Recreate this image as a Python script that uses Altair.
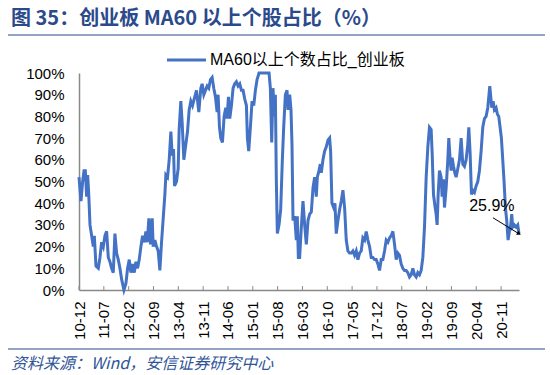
import altair as alt
import pandas as pd

# months since 2010-12 and share of ChiNext stocks above MA60 (%)
months = [
    0.0, 0.56, 1.03, 1.41, 1.78, 2.16, 2.44, 2.72, 3.10, 3.57,
    4.03, 4.32, 4.79, 5.44, 5.91, 6.38, 6.85, 7.32, 7.79, 8.26,
    8.73, 9.20, 9.66, 10.13, 10.60, 11.07, 11.54, 12.01, 12.67, 13.23,
    13.70, 14.17, 14.64, 15.11, 15.58, 16.05, 16.51, 16.98, 17.45, 17.92,
    18.39, 18.86, 19.24, 19.70, 20.17, 20.64, 20.92, 21.39, 21.86, 22.33,
    22.80, 23.27, 23.74, 24.21, 24.49, 24.96, 25.43, 25.90, 26.27, 26.65,
    26.93, 27.49, 27.96, 28.24, 28.71, 29.09, 29.56, 30.03, 30.59, 31.06,
    31.53, 32.00, 32.47, 33.12, 33.78, 34.34, 34.72, 35.19, 35.65, 36.12,
    36.59, 37.06, 37.53, 38.00, 38.47, 38.94, 39.22, 39.60, 39.97, 40.44,
    40.91, 41.38, 41.75, 42.13, 42.51, 42.97, 43.44, 43.91, 44.38, 44.85,
    45.32, 45.79, 46.26, 46.73, 47.20, 47.48, 47.85, 48.32, 48.79, 49.26,
    49.73, 50.20, 50.76, 51.42, 52.08, 52.83, 53.58,
    53.95, 54.33, 54.70, 55.08, 55.36, 55.64, 55.92, 56.39, 56.86, 57.33,
    57.71, 58.18, 58.65, 58.93, 59.40, 59.77, 60.05, 60.34, 60.81, 61.27,
    61.55, 61.84, 62.21, 62.68, 63.15, 63.62, 64.09, 64.56, 65.03, 65.50,
    65.97, 66.44, 66.90, 67.19, 67.66, 68.03, 68.31, 68.78, 69.25, 69.72,
    70.19, 70.66, 70.94, 71.31, 71.78, 72.16, 72.53, 73.00, 73.47, 73.94,
    74.41, 74.88, 75.35, 75.81, 76.28, 76.75, 77.22, 77.69, 78.16, 78.63,
    79.10, 79.57, 80.04, 80.51, 80.98, 81.45, 81.92, 82.39, 82.85, 83.32,
    83.79, 84.26, 84.73, 85.20, 85.67, 86.14, 86.61, 87.08, 87.55, 88.02,
    88.49, 88.96, 89.43, 89.90, 90.36, 90.83, 91.30, 91.77, 92.24, 92.71,
    93.18, 93.65, 94.12, 94.59, 95.06, 95.53, 96.00, 96.47, 96.94, 97.41,
    97.88, 98.35, 98.81, 99.28, 99.57, 99.94, 100.41, 100.69, 100.97, 101.26,
    101.63, 102.10, 102.38, 102.76, 103.04, 103.51, 103.98, 104.26, 104.64, 104.92,
    105.20, 105.58, 105.95, 106.33, 106.80, 107.27, 107.74, 108.21, 108.67, 109.14,
    109.61, 109.90, 110.27, 110.65, 111.02, 111.49, 111.96, 112.43, 112.90, 113.37,
    113.84, 114.31, 114.78, 115.25, 115.53, 115.81, 116.09, 116.37, 116.75, 117.12,
    117.59, 117.97, 118.34, 118.72, 119.09, 119.47, 119.84, 120.22, 120.59, 120.97,
    121.34, 121.72, 122.00, 122.28, 122.75, 123.22, 123.69, 124.05,
]
values = [
    52, 41, 50, 55, 55, 43, 53, 45, 30, 25,
    20, 25, 11, 10, 15, 22, 20, 25, 27, 15,
    13, 10, 8, 26, 17, 14, 10, 5, 0, 3,
    10, 14, 8, 12, 8, 13, 10, 14, 20, 25,
    22, 27, 22, 33, 21, 33, 20, 23, 20, 18,
    9, 22, 33, 44, 53, 52, 60, 73, 62, 65,
    48, 50, 56, 74, 87, 77, 60, 66, 73, 83,
    87, 85, 88, 92, 82, 93, 95, 90, 92, 94,
    93, 97, 98, 93, 89, 82, 90, 75, 70, 68,
    80, 84, 79, 89, 79, 85, 93, 95, 96, 94,
    95, 92, 92, 88, 85, 70, 64, 75, 87, 85,
    92, 97, 100, 100, 100, 100, 100,
    93, 68, 93, 80, 90, 50, 26, 30, 37, 60,
    75, 90, 92, 83, 90, 83, 67, 32, 34, 23,
    34, 15, 15, 29, 41, 30, 21, 32, 35, 36,
    47, 52, 43, 52, 55, 58, 54, 60, 64, 66,
    69, 70, 64, 40, 38, 40, 26, 32, 37, 41,
    46, 38, 23, 18, 17, 17, 18, 16, 18, 14,
    17, 18, 24, 23, 27, 23, 20, 15, 15, 14,
    14, 12, 9, 14, 14, 18, 23, 22, 24, 25,
    27, 21, 14, 17, 16, 12, 10, 9, 9, 8,
    6, 7, 10, 7, 6, 8, 7, 9, 15, 29,
    52, 66, 75, 74, 63, 44, 38, 35, 30, 44,
    55, 52, 43, 51, 38, 47, 60, 70, 60, 55,
    61, 57, 54, 52, 56, 60, 70, 58, 57, 60,
    67, 75, 63, 44, 46, 45, 48, 50, 55, 64,
    75, 79, 80, 84, 89, 94, 89, 84, 87, 83,
    84, 81, 80, 75, 70, 60, 50, 38, 32, 23,
    27, 30, 35, 29, 30, 29, 30, 25.9,
]

tick_labels = ["10-12", "11-07", "12-02", "12-09", "13-04", "13-11", "14-06",
               "15-01", "15-08", "16-03", "16-10", "17-05", "17-12", "18-07",
               "19-02", "19-09", "20-04", "20-11"]
tick_months = [0, 7, 14, 21, 28, 35, 42, 49, 56, 63, 70, 77, 84, 91, 98, 105, 112, 119]
y_ticks = [0, 10, 20, 30, 40, 50, 60, 70, 80, 90, 100]
tick_base = [0] * len(tick_months)
tick_top = [1.8] * len(tick_months)

annot_label = ["25.9%"]
annot_m = [116.4]
annot_v = [38.9]
arrow_m = [116.7]
arrow_v = [33.3]
arrow_m2 = [124.05]
arrow_v2 = [25.9]

series_name = "MA60以上个数占比_创业板"
title_text = "图 35：创业板 MA60 以上个股占比（%）"
source_text = "资料来源：Wind，安信证券研究中心"

LINE = "#4472C4"
AX = "#898989"
FONT = "Liberation Sans, Noto Sans CJK SC"

df = pd.DataFrame({"m": months, "v": values})
one = pd.DataFrame({"a": [0]})

label_arr = "[" + ",".join("'" + t + "'" for t in tick_labels) + "]"

xscale = alt.Scale(domain=[0, 124.05], nice=False, zero=False)
yscale = alt.Scale(domain=[0, 100], nice=False)

xaxis = alt.Axis(
    values=tick_months, labelExpr=label_arr + "[round(datum.value/7)]",
    labelAngle=-90, ticks=False, grid=False, domainColor=AX, domainWidth=1.5,
    labelFont=FONT, labelFontSize=15, labelColor="black", labelPadding=11,
    labelOverlap=False, labelFlush=False, title=None)
yaxis = alt.Axis(
    values=y_ticks, labelExpr="datum.value + '%'", ticks=False, grid=False,
    domainColor=AX, domainWidth=1.5, labelFont=FONT, labelFontSize=15,
    labelColor="black", labelPadding=15, labelOverlap=False, labelFlush=False,
    labelBound=False, title=None)

X = lambda f="m:Q": alt.X(f, scale=xscale, axis=xaxis)
Y = lambda f="v:Q": alt.Y(f, scale=yscale, axis=yaxis)

line = alt.Chart(df).mark_line(color=LINE, strokeWidth=3).encode(x=X(), y=Y())

tick_rule = alt.Chart(pd.DataFrame({"m": tick_months, "b": tick_base, "t": tick_top})).mark_rule(
    color=AX, strokeWidth=1).encode(x=X(), y=Y("b:Q"), y2="t:Q")

annot = alt.Chart(pd.DataFrame({"m": annot_m, "v": annot_v, "t": annot_label})).mark_text(
    font=FONT, fontSize=16, color="black").encode(x=X(), y=Y(), text="t:N")

arrow = alt.Chart(pd.DataFrame({"m": arrow_m, "v": arrow_v, "m2": arrow_m2, "v2": arrow_v2})).mark_rule(
    color="black", strokeWidth=1).encode(x=X(), y=Y(), x2="m2:Q", y2="v2:Q")

head = alt.Chart(pd.DataFrame({"m": arrow_m2, "v": arrow_v2})).mark_point(
    shape="triangle-right", angle=31, size=22, filled=True, color="black", opacity=1).encode(
    x=X(), y=Y())

title = alt.Chart(one).mark_text(
    text=title_text, align="left", baseline="middle", font="Noto Sans CJK SC",
    fontSize=20, fontWeight="bold", color="#2B4A8B").encode(
    x=alt.value(-68), y=alt.value(-54))

rule_top = alt.Chart(one).mark_rule(color="#6F86B5", strokeWidth=1.5).encode(
    x=alt.value(-71), x2=alt.value(466), y=alt.value(-38))
rule_bot = alt.Chart(one).mark_rule(color="#6F86B5", strokeWidth=1.5).encode(
    x=alt.value(-71), x2=alt.value(466), y=alt.value(276))

legend_line = alt.Chart(one).mark_rule(color=LINE, strokeWidth=3).encode(
    x=alt.value(88), x2=alt.value(127), y=alt.value(-13))
legend_text = alt.Chart(one).mark_text(
    text=series_name, align="left", baseline="middle", font=FONT, fontSize=16,
    color="black").encode(x=alt.value(131), y=alt.value(-13))

source = alt.Chart(one).mark_text(
    text=source_text, align="left", baseline="middle", font="Noto Sans CJK SC",
    fontSize=16, fontStyle="italic", color="#2F5597").encode(
    x=alt.value(-68), y=alt.value(291))

chart = alt.layer(
    line, tick_rule, arrow, head, annot, title, rule_top, rule_bot,
    legend_line, legend_text, source
).properties(
    width=440, height=217,
    padding={"left": 79, "top": 73, "right": 31, "bottom": 85},
    autosize=alt.AutoSizeParams(type="none"),
).configure_view(stroke=None).configure_axis(labelOverlap=False).configure_axisY(labelOverlap=False)

chart.save("out.html", embed_options={"renderer": "svg", "actions": False})
